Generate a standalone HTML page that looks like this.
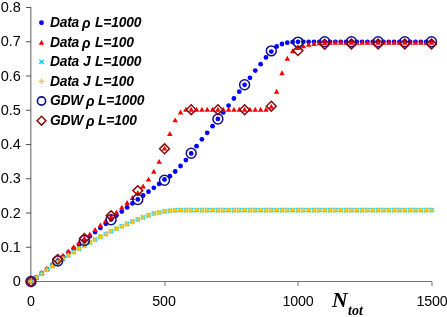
<!DOCTYPE html>
<html><head><meta charset="utf-8"><style>
html,body{margin:0;padding:0;background:#fff;}
#c div{will-change:transform;}
#c{position:relative;width:447px;height:317px;overflow:hidden;background:#fff;font-family:"Liberation Sans",sans-serif;color:#000;}
.yl{position:absolute;left:0;width:20.8px;text-align:right;font-size:14.5px;line-height:16px;height:16px;}
.xl{position:absolute;top:293.3px;width:60px;text-align:center;letter-spacing:-0.15px;font-size:14.3px;line-height:16px;}
.lg{position:absolute;left:50.3px;font-size:13.8px;line-height:16px;font-weight:bold;font-style:italic;white-space:nowrap;}
.rho{font-size:14px;line-height:16px;}
.N{position:absolute;left:332px;top:287.2px;font-family:"Liberation Serif",serif;font-weight:bold;font-style:italic;font-size:21.6px;line-height:26px;}
.tot{position:absolute;left:347.8px;top:303.5px;font-family:"Liberation Serif",serif;font-weight:bold;font-style:italic;font-size:14px;line-height:14px;}
</style></head><body><div id="c">
<svg width="447" height="317" viewBox="0 0 447 317" style="position:absolute;left:0;top:0">
<g stroke="#747474" stroke-width="1" fill="none" >
<line x1="30.8" y1="7" x2="30.8" y2="282" stroke-width="1.3" stroke="#808080"/>
<line x1="30.3" y1="281.5" x2="432" y2="281.5" stroke-width="1.1"/>
<line x1="26" y1="281.50" x2="31" y2="281.50" stroke="#505050"/>
<line x1="26" y1="247.25" x2="31" y2="247.25" stroke="#505050"/>
<line x1="26" y1="213.00" x2="31" y2="213.00" stroke="#505050"/>
<line x1="26" y1="178.75" x2="31" y2="178.75" stroke="#505050"/>
<line x1="26" y1="144.50" x2="31" y2="144.50" stroke="#505050"/>
<line x1="26" y1="110.25" x2="31" y2="110.25" stroke="#505050"/>
<line x1="26" y1="76.00" x2="31" y2="76.00" stroke="#505050"/>
<line x1="26" y1="41.75" x2="31" y2="41.75" stroke="#505050"/>
<line x1="26" y1="7.50" x2="31" y2="7.50" stroke="#505050"/>
<line x1="165.00" y1="281.5" x2="165.00" y2="286.1"/>
<line x1="298.00" y1="281.5" x2="298.00" y2="286.1"/>
<line x1="432.00" y1="281.5" x2="432.00" y2="286.1"/>
</g>
<g fill="#0000ff">
<circle cx="31.00" cy="281.50" r="2.4"/>
<circle cx="36.34" cy="277.39" r="2.4"/>
<circle cx="41.68" cy="273.27" r="2.4"/>
<circle cx="47.02" cy="269.16" r="2.4"/>
<circle cx="52.36" cy="265.04" r="2.4"/>
<circle cx="57.70" cy="260.93" r="2.4"/>
<circle cx="63.04" cy="256.81" r="2.4"/>
<circle cx="68.38" cy="252.70" r="2.4"/>
<circle cx="73.72" cy="248.58" r="2.4"/>
<circle cx="79.06" cy="244.47" r="2.4"/>
<circle cx="84.40" cy="240.35" r="2.4"/>
<circle cx="89.74" cy="236.20" r="2.4"/>
<circle cx="95.08" cy="232.05" r="2.4"/>
<circle cx="100.42" cy="227.90" r="2.4"/>
<circle cx="105.76" cy="223.76" r="2.4"/>
<circle cx="111.10" cy="219.61" r="2.4"/>
<circle cx="116.44" cy="215.56" r="2.4"/>
<circle cx="121.78" cy="211.51" r="2.4"/>
<circle cx="127.12" cy="207.47" r="2.4"/>
<circle cx="132.46" cy="203.42" r="2.4"/>
<circle cx="137.80" cy="199.38" r="2.4"/>
<circle cx="143.14" cy="195.52" r="2.4"/>
<circle cx="148.48" cy="191.66" r="2.4"/>
<circle cx="153.82" cy="187.80" r="2.4"/>
<circle cx="159.16" cy="183.94" r="2.4"/>
<circle cx="164.50" cy="179.49" r="2.4"/>
<circle cx="169.84" cy="176.23" r="2.4"/>
<circle cx="175.18" cy="171.50" r="2.4"/>
<circle cx="180.52" cy="166.01" r="2.4"/>
<circle cx="185.86" cy="160.11" r="2.4"/>
<circle cx="191.20" cy="153.39" r="2.4"/>
<circle cx="196.54" cy="146.19" r="2.4"/>
<circle cx="201.88" cy="139.37" r="2.4"/>
<circle cx="207.22" cy="132.85" r="2.4"/>
<circle cx="212.56" cy="126.17" r="2.4"/>
<circle cx="217.90" cy="118.90" r="2.4"/>
<circle cx="223.24" cy="112.45" r="2.4"/>
<circle cx="228.58" cy="105.59" r="2.4"/>
<circle cx="233.92" cy="98.49" r="2.4"/>
<circle cx="239.26" cy="91.70" r="2.4"/>
<circle cx="244.60" cy="84.81" r="2.4"/>
<circle cx="249.94" cy="77.82" r="2.4"/>
<circle cx="255.28" cy="70.62" r="2.4"/>
<circle cx="260.62" cy="64.20" r="2.4"/>
<circle cx="265.96" cy="57.41" r="2.4"/>
<circle cx="271.30" cy="51.62" r="2.4"/>
<circle cx="276.64" cy="46.51" r="2.4"/>
<circle cx="281.98" cy="44.01" r="2.4"/>
<circle cx="287.32" cy="42.70" r="2.4"/>
<circle cx="292.66" cy="42.02" r="2.4"/>
<circle cx="298.00" cy="41.81" r="2.4"/>
<circle cx="303.34" cy="41.81" r="2.4"/>
<circle cx="308.68" cy="41.81" r="2.4"/>
<circle cx="314.02" cy="41.81" r="2.4"/>
<circle cx="319.36" cy="41.81" r="2.4"/>
<circle cx="324.70" cy="41.81" r="2.4"/>
<circle cx="330.04" cy="41.81" r="2.4"/>
<circle cx="335.38" cy="41.81" r="2.4"/>
<circle cx="340.72" cy="41.81" r="2.4"/>
<circle cx="346.06" cy="41.81" r="2.4"/>
<circle cx="351.40" cy="41.81" r="2.4"/>
<circle cx="356.74" cy="41.81" r="2.4"/>
<circle cx="362.08" cy="41.81" r="2.4"/>
<circle cx="367.42" cy="41.81" r="2.4"/>
<circle cx="372.76" cy="41.81" r="2.4"/>
<circle cx="378.10" cy="41.81" r="2.4"/>
<circle cx="383.44" cy="41.81" r="2.4"/>
<circle cx="388.78" cy="41.81" r="2.4"/>
<circle cx="394.12" cy="41.81" r="2.4"/>
<circle cx="399.46" cy="41.81" r="2.4"/>
<circle cx="404.80" cy="41.81" r="2.4"/>
<circle cx="410.14" cy="41.81" r="2.4"/>
<circle cx="415.48" cy="41.81" r="2.4"/>
<circle cx="420.82" cy="41.81" r="2.4"/>
<circle cx="426.16" cy="41.81" r="2.4"/>
<circle cx="431.50" cy="41.81" r="2.4"/>
</g>
<g fill="#ff0000">
<path d="M31.00 278.90L33.75 283.80L28.25 283.80Z"/>
<path d="M36.34 274.51L39.09 279.41L33.59 279.41Z"/>
<path d="M41.68 270.12L44.43 275.02L38.93 275.02Z"/>
<path d="M47.02 265.73L49.77 270.63L44.27 270.63Z"/>
<path d="M52.36 261.34L55.11 266.24L49.61 266.24Z"/>
<path d="M57.70 256.95L60.45 261.85L54.95 261.85Z"/>
<path d="M63.04 252.74L65.79 257.64L60.29 257.64Z"/>
<path d="M68.38 248.52L71.13 253.42L65.63 253.42Z"/>
<path d="M73.72 244.30L76.47 249.20L70.97 249.20Z"/>
<path d="M79.06 240.08L81.81 244.98L76.31 244.98Z"/>
<path d="M84.40 235.87L87.15 240.77L81.65 240.77Z"/>
<path d="M89.74 231.49L92.49 236.39L86.99 236.39Z"/>
<path d="M95.08 227.12L97.83 232.02L92.33 232.02Z"/>
<path d="M100.42 222.49L103.17 227.39L97.67 227.39Z"/>
<path d="M105.76 218.21L108.51 223.11L103.01 223.11Z"/>
<path d="M111.10 213.75L113.85 218.65L108.35 218.65Z"/>
<path d="M116.44 209.63L119.19 214.53L113.69 214.53Z"/>
<path d="M121.78 204.66L124.53 209.56L119.03 209.56Z"/>
<path d="M127.12 200.03L129.87 204.93L124.37 204.93Z"/>
<path d="M132.46 195.06L135.21 199.96L129.71 199.96Z"/>
<path d="M137.80 189.92L140.55 194.82L135.05 194.82Z"/>
<path d="M143.14 183.57L145.89 188.47L140.39 188.47Z"/>
<path d="M148.48 176.72L151.23 181.62L145.73 181.62Z"/>
<path d="M153.82 168.83L156.57 173.73L151.07 173.73Z"/>
<path d="M159.16 158.88L161.91 163.78L156.41 163.78Z"/>
<path d="M164.50 145.68L167.25 150.58L161.75 150.58Z"/>
<path d="M169.84 131.11L172.59 136.01L167.09 136.01Z"/>
<path d="M175.18 117.39L177.93 122.29L172.43 122.29Z"/>
<path d="M180.52 109.51L183.27 114.41L177.77 114.41Z"/>
<path d="M185.86 106.76L188.61 111.66L183.11 111.66Z"/>
<path d="M191.20 106.76L193.95 111.66L188.45 111.66Z"/>
<path d="M196.54 106.76L199.29 111.66L193.79 111.66Z"/>
<path d="M201.88 106.76L204.63 111.66L199.13 111.66Z"/>
<path d="M207.22 106.76L209.97 111.66L204.47 111.66Z"/>
<path d="M212.56 106.76L215.31 111.66L209.81 111.66Z"/>
<path d="M217.90 106.76L220.65 111.66L215.15 111.66Z"/>
<path d="M223.24 106.76L225.99 111.66L220.49 111.66Z"/>
<path d="M228.58 106.76L231.33 111.66L225.83 111.66Z"/>
<path d="M233.92 106.76L236.67 111.66L231.17 111.66Z"/>
<path d="M239.26 106.76L242.01 111.66L236.51 111.66Z"/>
<path d="M244.60 106.76L247.35 111.66L241.85 111.66Z"/>
<path d="M249.94 106.76L252.69 111.66L247.19 111.66Z"/>
<path d="M255.28 106.76L258.03 111.66L252.53 111.66Z"/>
<path d="M260.62 106.76L263.37 111.66L257.87 111.66Z"/>
<path d="M265.96 106.76L268.71 111.66L263.21 111.66Z"/>
<path d="M271.30 103.85L274.05 108.75L268.55 108.75Z"/>
<path d="M276.64 88.76L279.39 93.66L273.89 93.66Z"/>
<path d="M281.98 70.25L284.73 75.15L279.23 75.15Z"/>
<path d="M287.32 55.84L290.07 60.74L284.57 60.74Z"/>
<path d="M292.66 48.33L295.41 53.23L289.91 53.23Z"/>
<path d="M298.00 45.04L300.75 49.94L295.25 49.94Z"/>
<path d="M303.34 43.40L306.09 48.30L300.59 48.30Z"/>
<path d="M308.68 41.78L311.43 46.68L305.93 46.68Z"/>
<path d="M314.02 41.10L316.77 46.00L311.27 46.00Z"/>
<path d="M319.36 40.41L322.11 45.31L316.61 45.31Z"/>
<path d="M324.70 40.07L327.45 44.97L321.95 44.97Z"/>
<path d="M330.04 39.83L332.79 44.73L327.29 44.73Z"/>
<path d="M335.38 39.83L338.13 44.73L332.63 44.73Z"/>
<path d="M340.72 39.83L343.47 44.73L337.97 44.73Z"/>
<path d="M346.06 39.83L348.81 44.73L343.31 44.73Z"/>
<path d="M351.40 39.83L354.15 44.73L348.65 44.73Z"/>
<path d="M356.74 39.83L359.49 44.73L353.99 44.73Z"/>
<path d="M362.08 39.83L364.83 44.73L359.33 44.73Z"/>
<path d="M367.42 39.83L370.17 44.73L364.67 44.73Z"/>
<path d="M372.76 39.83L375.51 44.73L370.01 44.73Z"/>
<path d="M378.10 39.83L380.85 44.73L375.35 44.73Z"/>
<path d="M383.44 39.83L386.19 44.73L380.69 44.73Z"/>
<path d="M388.78 39.83L391.53 44.73L386.03 44.73Z"/>
<path d="M394.12 39.83L396.87 44.73L391.37 44.73Z"/>
<path d="M399.46 39.83L402.21 44.73L396.71 44.73Z"/>
<path d="M404.80 39.83L407.55 44.73L402.05 44.73Z"/>
<path d="M410.14 39.83L412.89 44.73L407.39 44.73Z"/>
<path d="M415.48 39.83L418.23 44.73L412.73 44.73Z"/>
<path d="M420.82 39.83L423.57 44.73L418.07 44.73Z"/>
<path d="M426.16 39.83L428.91 44.73L423.41 44.73Z"/>
<path d="M431.50 39.83L434.25 44.73L428.75 44.73Z"/>
</g>
<g stroke="#10c8ff" stroke-width="1.3" fill="none">
<path d="M28.90 279.40L33.10 283.60M28.90 283.60L33.10 279.40"/>
<path d="M34.24 275.37L38.44 279.57M34.24 279.57L38.44 275.37"/>
<path d="M39.58 271.43L43.78 275.63M39.58 275.63L43.78 271.43"/>
<path d="M44.92 267.60L49.12 271.80M44.92 271.80L49.12 267.60"/>
<path d="M50.26 263.86L54.46 268.06M50.26 268.06L54.46 263.86"/>
<path d="M55.60 260.22L59.80 264.42M55.60 264.42L59.80 260.22"/>
<path d="M60.94 256.67L65.14 260.87M60.94 260.87L65.14 256.67"/>
<path d="M66.28 253.23L70.48 257.43M66.28 257.43L70.48 253.23"/>
<path d="M71.62 249.88L75.82 254.08M71.62 254.08L75.82 249.88"/>
<path d="M76.96 246.63L81.16 250.83M76.96 250.83L81.16 246.63"/>
<path d="M82.30 243.48L86.50 247.68M82.30 247.68L86.50 243.48"/>
<path d="M87.64 240.43L91.84 244.63M87.64 244.63L91.84 240.43"/>
<path d="M92.98 237.47L97.18 241.67M92.98 241.67L97.18 237.47"/>
<path d="M98.32 234.61L102.52 238.81M98.32 238.81L102.52 234.61"/>
<path d="M103.66 231.85L107.86 236.05M103.66 236.05L107.86 231.85"/>
<path d="M109.00 229.19L113.20 233.39M109.00 233.39L113.20 229.19"/>
<path d="M114.34 226.63L118.54 230.83M114.34 230.83L118.54 226.63"/>
<path d="M119.68 224.16L123.88 228.36M119.68 228.36L123.88 224.16"/>
<path d="M125.02 221.80L129.22 226.00M125.02 226.00L129.22 221.80"/>
<path d="M130.36 219.53L134.56 223.73M130.36 223.73L134.56 219.53"/>
<path d="M135.70 217.36L139.90 221.56M135.70 221.56L139.90 217.36"/>
<path d="M141.04 215.28L145.24 219.48M141.04 219.48L145.24 215.28"/>
<path d="M146.38 213.31L150.58 217.51M146.38 217.51L150.58 213.31"/>
<path d="M151.72 211.43L155.92 215.63M151.72 215.63L155.92 211.43"/>
<path d="M157.06 210.45L161.26 214.65M157.06 214.65L161.26 210.45"/>
<path d="M162.40 209.33L166.60 213.53M162.40 213.53L166.60 209.33"/>
<path d="M167.74 208.65L171.94 212.85M167.74 212.85L171.94 208.65"/>
<path d="M173.08 208.21L177.28 212.41M173.08 212.41L177.28 208.21"/>
<path d="M178.42 208.04L182.62 212.24M178.42 212.24L182.62 208.04"/>
<path d="M183.76 207.97L187.96 212.17M183.76 212.17L187.96 207.97"/>
<path d="M189.10 207.97L193.30 212.17M189.10 212.17L193.30 207.97"/>
<path d="M194.44 207.97L198.64 212.17M194.44 212.17L198.64 207.97"/>
<path d="M199.78 207.97L203.98 212.17M199.78 212.17L203.98 207.97"/>
<path d="M205.12 207.97L209.32 212.17M205.12 212.17L209.32 207.97"/>
<path d="M210.46 207.97L214.66 212.17M210.46 212.17L214.66 207.97"/>
<path d="M215.80 207.97L220.00 212.17M215.80 212.17L220.00 207.97"/>
<path d="M221.14 207.97L225.34 212.17M221.14 212.17L225.34 207.97"/>
<path d="M226.48 207.97L230.68 212.17M226.48 212.17L230.68 207.97"/>
<path d="M231.82 207.97L236.02 212.17M231.82 212.17L236.02 207.97"/>
<path d="M237.16 207.97L241.36 212.17M237.16 212.17L241.36 207.97"/>
<path d="M242.50 207.97L246.70 212.17M242.50 212.17L246.70 207.97"/>
<path d="M247.84 207.97L252.04 212.17M247.84 212.17L252.04 207.97"/>
<path d="M253.18 207.97L257.38 212.17M253.18 212.17L257.38 207.97"/>
<path d="M258.52 207.97L262.72 212.17M258.52 212.17L262.72 207.97"/>
<path d="M263.86 207.97L268.06 212.17M263.86 212.17L268.06 207.97"/>
<path d="M269.20 207.97L273.40 212.17M269.20 212.17L273.40 207.97"/>
<path d="M274.54 207.97L278.74 212.17M274.54 212.17L278.74 207.97"/>
<path d="M279.88 207.97L284.08 212.17M279.88 212.17L284.08 207.97"/>
<path d="M285.22 207.97L289.42 212.17M285.22 212.17L289.42 207.97"/>
<path d="M290.56 207.97L294.76 212.17M290.56 212.17L294.76 207.97"/>
<path d="M295.90 207.97L300.10 212.17M295.90 212.17L300.10 207.97"/>
<path d="M301.24 207.97L305.44 212.17M301.24 212.17L305.44 207.97"/>
<path d="M306.58 207.97L310.78 212.17M306.58 212.17L310.78 207.97"/>
<path d="M311.92 207.97L316.12 212.17M311.92 212.17L316.12 207.97"/>
<path d="M317.26 207.97L321.46 212.17M317.26 212.17L321.46 207.97"/>
<path d="M322.60 207.97L326.80 212.17M322.60 212.17L326.80 207.97"/>
<path d="M327.94 207.97L332.14 212.17M327.94 212.17L332.14 207.97"/>
<path d="M333.28 207.97L337.48 212.17M333.28 212.17L337.48 207.97"/>
<path d="M338.62 207.97L342.82 212.17M338.62 212.17L342.82 207.97"/>
<path d="M343.96 207.97L348.16 212.17M343.96 212.17L348.16 207.97"/>
<path d="M349.30 207.97L353.50 212.17M349.30 212.17L353.50 207.97"/>
<path d="M354.64 207.97L358.84 212.17M354.64 212.17L358.84 207.97"/>
<path d="M359.98 207.97L364.18 212.17M359.98 212.17L364.18 207.97"/>
<path d="M365.32 207.97L369.52 212.17M365.32 212.17L369.52 207.97"/>
<path d="M370.66 207.97L374.86 212.17M370.66 212.17L374.86 207.97"/>
<path d="M376.00 207.97L380.20 212.17M376.00 212.17L380.20 207.97"/>
<path d="M381.34 207.97L385.54 212.17M381.34 212.17L385.54 207.97"/>
<path d="M386.68 207.97L390.88 212.17M386.68 212.17L390.88 207.97"/>
<path d="M392.02 207.97L396.22 212.17M392.02 212.17L396.22 207.97"/>
<path d="M397.36 207.97L401.56 212.17M397.36 212.17L401.56 207.97"/>
<path d="M402.70 207.97L406.90 212.17M402.70 212.17L406.90 207.97"/>
<path d="M408.04 207.97L412.24 212.17M408.04 212.17L412.24 207.97"/>
<path d="M413.38 207.97L417.58 212.17M413.38 212.17L417.58 207.97"/>
<path d="M418.72 207.97L422.92 212.17M418.72 212.17L422.92 207.97"/>
<path d="M424.06 207.97L428.26 212.17M424.06 212.17L428.26 207.97"/>
<path d="M429.40 207.97L433.60 212.17M429.40 212.17L433.60 207.97"/>
</g>
<g stroke="#ffc800" stroke-width="1.5" fill="none">
<path d="M28.40 281.50L33.60 281.50M31.00 278.90L31.00 284.10"/>
<path d="M33.74 277.47L38.94 277.47M36.34 274.87L36.34 280.07"/>
<path d="M39.08 273.53L44.28 273.53M41.68 270.93L41.68 276.13"/>
<path d="M44.42 269.70L49.62 269.70M47.02 267.10L47.02 272.30"/>
<path d="M49.76 265.96L54.96 265.96M52.36 263.36L52.36 268.56"/>
<path d="M55.10 262.32L60.30 262.32M57.70 259.72L57.70 264.92"/>
<path d="M60.44 258.77L65.64 258.77M63.04 256.17L63.04 261.37"/>
<path d="M65.78 255.33L70.98 255.33M68.38 252.73L68.38 257.93"/>
<path d="M71.12 251.98L76.32 251.98M73.72 249.38L73.72 254.58"/>
<path d="M76.46 248.73L81.66 248.73M79.06 246.13L79.06 251.33"/>
<path d="M81.80 245.58L87.00 245.58M84.40 242.98L84.40 248.18"/>
<path d="M87.14 242.53L92.34 242.53M89.74 239.93L89.74 245.13"/>
<path d="M92.48 239.57L97.68 239.57M95.08 236.97L95.08 242.17"/>
<path d="M97.82 236.71L103.02 236.71M100.42 234.11L100.42 239.31"/>
<path d="M103.16 233.95L108.36 233.95M105.76 231.35L105.76 236.55"/>
<path d="M108.50 231.29L113.70 231.29M111.10 228.69L111.10 233.89"/>
<path d="M113.84 228.73L119.04 228.73M116.44 226.13L116.44 231.33"/>
<path d="M119.18 226.26L124.38 226.26M121.78 223.66L121.78 228.86"/>
<path d="M124.52 223.90L129.72 223.90M127.12 221.30L127.12 226.50"/>
<path d="M129.86 221.63L135.06 221.63M132.46 219.03L132.46 224.23"/>
<path d="M135.20 219.46L140.40 219.46M137.80 216.86L137.80 222.06"/>
<path d="M140.54 217.38L145.74 217.38M143.14 214.78L143.14 219.98"/>
<path d="M145.88 215.41L151.08 215.41M148.48 212.81L148.48 218.01"/>
<path d="M151.22 213.53L156.42 213.53M153.82 210.93L153.82 216.13"/>
<path d="M156.56 212.55L161.76 212.55M159.16 209.95L159.16 215.15"/>
<path d="M161.90 211.43L167.10 211.43M164.50 208.83L164.50 214.03"/>
<path d="M167.24 210.75L172.44 210.75M169.84 208.15L169.84 213.35"/>
<path d="M172.58 210.31L177.78 210.31M175.18 207.71L175.18 212.91"/>
<path d="M177.92 210.14L183.12 210.14M180.52 207.54L180.52 212.74"/>
<path d="M183.26 210.07L188.46 210.07M185.86 207.47L185.86 212.67"/>
<path d="M188.60 210.07L193.80 210.07M191.20 207.47L191.20 212.67"/>
<path d="M193.94 210.07L199.14 210.07M196.54 207.47L196.54 212.67"/>
<path d="M199.28 210.07L204.48 210.07M201.88 207.47L201.88 212.67"/>
<path d="M204.62 210.07L209.82 210.07M207.22 207.47L207.22 212.67"/>
<path d="M209.96 210.07L215.16 210.07M212.56 207.47L212.56 212.67"/>
<path d="M215.30 210.07L220.50 210.07M217.90 207.47L217.90 212.67"/>
<path d="M220.64 210.07L225.84 210.07M223.24 207.47L223.24 212.67"/>
<path d="M225.98 210.07L231.18 210.07M228.58 207.47L228.58 212.67"/>
<path d="M231.32 210.07L236.52 210.07M233.92 207.47L233.92 212.67"/>
<path d="M236.66 210.07L241.86 210.07M239.26 207.47L239.26 212.67"/>
<path d="M242.00 210.07L247.20 210.07M244.60 207.47L244.60 212.67"/>
<path d="M247.34 210.07L252.54 210.07M249.94 207.47L249.94 212.67"/>
<path d="M252.68 210.07L257.88 210.07M255.28 207.47L255.28 212.67"/>
<path d="M258.02 210.07L263.22 210.07M260.62 207.47L260.62 212.67"/>
<path d="M263.36 210.07L268.56 210.07M265.96 207.47L265.96 212.67"/>
<path d="M268.70 210.07L273.90 210.07M271.30 207.47L271.30 212.67"/>
<path d="M274.04 210.07L279.24 210.07M276.64 207.47L276.64 212.67"/>
<path d="M279.38 210.07L284.58 210.07M281.98 207.47L281.98 212.67"/>
<path d="M284.72 210.07L289.92 210.07M287.32 207.47L287.32 212.67"/>
<path d="M290.06 210.07L295.26 210.07M292.66 207.47L292.66 212.67"/>
<path d="M295.40 210.07L300.60 210.07M298.00 207.47L298.00 212.67"/>
<path d="M300.74 210.07L305.94 210.07M303.34 207.47L303.34 212.67"/>
<path d="M306.08 210.07L311.28 210.07M308.68 207.47L308.68 212.67"/>
<path d="M311.42 210.07L316.62 210.07M314.02 207.47L314.02 212.67"/>
<path d="M316.76 210.07L321.96 210.07M319.36 207.47L319.36 212.67"/>
<path d="M322.10 210.07L327.30 210.07M324.70 207.47L324.70 212.67"/>
<path d="M327.44 210.07L332.64 210.07M330.04 207.47L330.04 212.67"/>
<path d="M332.78 210.07L337.98 210.07M335.38 207.47L335.38 212.67"/>
<path d="M338.12 210.07L343.32 210.07M340.72 207.47L340.72 212.67"/>
<path d="M343.46 210.07L348.66 210.07M346.06 207.47L346.06 212.67"/>
<path d="M348.80 210.07L354.00 210.07M351.40 207.47L351.40 212.67"/>
<path d="M354.14 210.07L359.34 210.07M356.74 207.47L356.74 212.67"/>
<path d="M359.48 210.07L364.68 210.07M362.08 207.47L362.08 212.67"/>
<path d="M364.82 210.07L370.02 210.07M367.42 207.47L367.42 212.67"/>
<path d="M370.16 210.07L375.36 210.07M372.76 207.47L372.76 212.67"/>
<path d="M375.50 210.07L380.70 210.07M378.10 207.47L378.10 212.67"/>
<path d="M380.84 210.07L386.04 210.07M383.44 207.47L383.44 212.67"/>
<path d="M386.18 210.07L391.38 210.07M388.78 207.47L388.78 212.67"/>
<path d="M391.52 210.07L396.72 210.07M394.12 207.47L394.12 212.67"/>
<path d="M396.86 210.07L402.06 210.07M399.46 207.47L399.46 212.67"/>
<path d="M402.20 210.07L407.40 210.07M404.80 207.47L404.80 212.67"/>
<path d="M407.54 210.07L412.74 210.07M410.14 207.47L410.14 212.67"/>
<path d="M412.88 210.07L418.08 210.07M415.48 207.47L415.48 212.67"/>
<path d="M418.22 210.07L423.42 210.07M420.82 207.47L420.82 212.67"/>
<path d="M423.56 210.07L428.76 210.07M426.16 207.47L426.16 212.67"/>
<path d="M428.90 210.07L434.10 210.07M431.50 207.47L431.50 212.67"/>
</g>
<g stroke="#101088" stroke-width="1.5" fill="none">
<circle cx="31.00" cy="281.50" r="4.95"/>
<circle cx="57.70" cy="261.00" r="4.95"/>
<circle cx="84.40" cy="240.50" r="4.95"/>
<circle cx="111.10" cy="219.70" r="4.95"/>
<circle cx="137.80" cy="199.50" r="4.95"/>
<circle cx="164.50" cy="180.20" r="4.95"/>
<circle cx="191.20" cy="153.20" r="4.95"/>
<circle cx="217.90" cy="119.00" r="4.95"/>
<circle cx="244.60" cy="84.70" r="4.95"/>
<circle cx="271.30" cy="50.90" r="4.95"/>
<circle cx="298.00" cy="42.10" r="4.95"/>
<circle cx="324.70" cy="41.70" r="4.95"/>
<circle cx="351.40" cy="41.70" r="4.95"/>
<circle cx="378.10" cy="41.70" r="4.95"/>
<circle cx="404.80" cy="41.70" r="4.95"/>
<circle cx="431.50" cy="41.70" r="4.95"/>
</g>
<g stroke="#8b0a0a" stroke-width="1.5" fill="none">
<path d="M31.00 276.60L35.90 281.50L31.00 286.40L26.10 281.50Z"/>
<path d="M57.70 254.50L62.60 259.40L57.70 264.30L52.80 259.40Z"/>
<path d="M84.40 233.50L89.30 238.40L84.40 243.30L79.50 238.40Z"/>
<path d="M111.10 210.90L116.00 215.80L111.10 220.70L106.20 215.80Z"/>
<path d="M137.80 185.70L142.70 190.60L137.80 195.50L132.90 190.60Z"/>
<path d="M164.50 143.90L169.40 148.80L164.50 153.70L159.60 148.80Z"/>
<path d="M191.20 104.80L196.10 109.70L191.20 114.60L186.30 109.70Z"/>
<path d="M217.90 104.80L222.80 109.70L217.90 114.60L213.00 109.70Z"/>
<path d="M244.60 104.80L249.50 109.70L244.60 114.60L239.70 109.70Z"/>
<path d="M271.30 101.30L276.20 106.20L271.30 111.10L266.40 106.20Z"/>
<path d="M298.00 45.70L302.90 50.60L298.00 55.50L293.10 50.60Z"/>
<path d="M324.70 39.40L329.60 44.30L324.70 49.20L319.80 44.30Z"/>
<path d="M351.40 39.10L356.30 44.00L351.40 48.90L346.50 44.00Z"/>
<path d="M378.10 39.10L383.00 44.00L378.10 48.90L373.20 44.00Z"/>
<path d="M404.80 39.10L409.70 44.00L404.80 48.90L399.90 44.00Z"/>
<path d="M431.50 39.10L436.40 44.00L431.50 48.90L426.60 44.00Z"/>
</g>
<circle cx="41.5" cy="22.7" r="2.45" fill="#0000ff"/>
<path d="M41.50 39.80L44.20 44.80L38.80 44.80Z" fill="#ff0000"/>
<path d="M39.30 59.70L43.70 64.10M39.30 64.10L43.70 59.70" stroke="#10c8ff" stroke-width="1.4"/>
<path d="M38.90 81.40L44.10 81.40M41.50 78.80L41.50 84.00" stroke="#ffc800" stroke-width="1.4"/>
<circle cx="41.5" cy="101.0" r="4.1" stroke="#101088" stroke-width="1.6" fill="none"/>
<path d="M41.50 116.30L45.90 120.70L41.50 125.10L37.10 120.70Z" stroke="#8b0a0a" stroke-width="1.5" fill="none"/>
</svg>
<div class="yl" style="top:273.1px">0</div>
<div class="yl" style="top:238.8px">0.1</div>
<div class="yl" style="top:204.6px">0.2</div>
<div class="yl" style="top:170.3px">0.3</div>
<div class="yl" style="top:136.1px">0.4</div>
<div class="yl" style="top:101.8px">0.5</div>
<div class="yl" style="top:67.6px">0.6</div>
<div class="yl" style="top:33.3px">0.7</div>
<div class="yl" style="top:-0.9px">0.8</div>
<div class="xl" style="left:0.7px">0</div>
<div class="xl" style="left:134.2px">500</div>
<div class="xl" style="left:267.7px">1000</div>
<div class="xl" style="left:402.0px">1500</div>
<div class="lg" style="top:14.8px;left:49.8px;letter-spacing:-0.25px">Data</div>
<div class="lg" style="top:14.8px;left:81.6px"><span class="rho">&rho;</span></div>
<div class="lg" style="top:14.8px;left:94.8px;letter-spacing:-0.15px">L=1000</div>
<div class="lg" style="top:34.5px;left:49.8px;letter-spacing:-0.25px">Data</div>
<div class="lg" style="top:34.5px;left:81.6px"><span class="rho">&rho;</span></div>
<div class="lg" style="top:34.5px;left:94.8px;letter-spacing:-0.15px">L=100</div>
<div class="lg" style="top:54.1px;left:49.8px;letter-spacing:-0.25px">Data</div>
<div class="lg" style="top:54.1px;left:82.9px">J</div>
<div class="lg" style="top:54.1px;left:94.6px;letter-spacing:-0.15px">L=1000</div>
<div class="lg" style="top:73.6px;left:49.8px;letter-spacing:-0.25px">Data</div>
<div class="lg" style="top:73.6px;left:82.9px">J</div>
<div class="lg" style="top:73.6px;left:94.6px;letter-spacing:-0.15px">L=100</div>
<div class="lg" style="top:93.3px;left:49.8px;letter-spacing:-0.25px">GDW</div>
<div class="lg" style="top:93.3px;left:86.0px"><span class="rho">&rho;</span></div>
<div class="lg" style="top:93.3px;left:98.2px;letter-spacing:-0.15px">L=1000</div>
<div class="lg" style="top:112.9px;left:49.8px;letter-spacing:-0.25px">GDW</div>
<div class="lg" style="top:112.9px;left:86.0px"><span class="rho">&rho;</span></div>
<div class="lg" style="top:112.9px;left:98.2px;letter-spacing:-0.15px">L=100</div>
<div class="N">N</div><div class="tot">tot</div>
</div></body></html>
